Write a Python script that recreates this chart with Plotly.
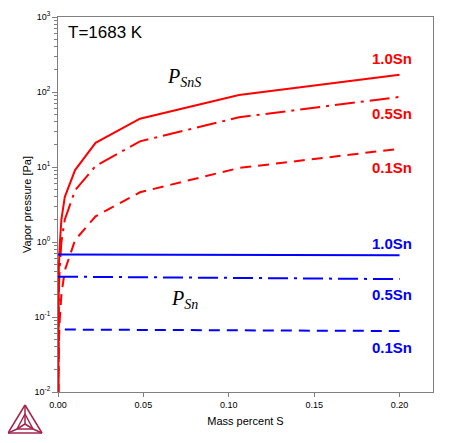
import plotly.graph_objects as go

# ---- data ----
x_sns = [0.0, 0.0001, 0.0005, 0.001, 0.002, 0.004, 0.010, 0.022, 0.048, 0.106, 0.200]
p_sns_10 = [1e-3, 0.09, 0.45, 0.9, 2.0, 4.0, 9.1, 21.0, 44.0, 91.0, 170.0]
p_sns_05 = [1e-3, 0.045, 0.22, 0.45, 1.0, 2.0, 4.9, 10.3, 22.0, 46.0, 86.0]
p_sns_01 = [1e-3, 0.009, 0.045, 0.09, 0.2, 0.42, 1.06, 2.2, 4.6, 9.7, 17.5]

x_sn = [0.0, 0.05, 0.10, 0.15, 0.20]
p_sn_10 = [0.68, 0.676, 0.672, 0.668, 0.665]
p_sn_05 = [0.345, 0.338, 0.332, 0.326, 0.320]
x_sn_01 = [0.004, 0.05, 0.10, 0.15, 0.20]
p_sn_01 = [0.068, 0.0672, 0.0665, 0.0657, 0.065]

x_ticks = [0.00, 0.05, 0.10, 0.15, 0.20]
x_ticklabels = ["0.00", "0.05", "0.10", "0.15", "0.20"]
y_ticks = [0.01, 0.1, 1, 10, 100, 1000]
y_ticklabels = ["10<sup>-2</sup>", "10<sup>-1</sup>", "10<sup>0</sup>",
                "10<sup>1</sup>", "10<sup>2</sup>", "10<sup>3</sup>"]

RED = "#ff0000"
BLUE = "#0000ff"
DASH = "11px,7px"
DASHDOT = "20px,6px,3px,6px"

fig = go.Figure()
for y, d in [(p_sns_10, "solid"), (p_sns_05, DASHDOT), (p_sns_01, DASH)]:
    fig.add_trace(go.Scatter(x=x_sns, y=y, mode="lines",
                             line=dict(color=RED, width=2, dash=d), showlegend=False))
for xx, y, d in [(x_sn, p_sn_10, "solid"), (x_sn, p_sn_05, DASHDOT), (x_sn_01, p_sn_01, DASH)]:
    fig.add_trace(go.Scatter(x=xx, y=y, mode="lines",
                             line=dict(color=BLUE, width=2, dash=d), showlegend=False))

# ---- layout (page body has an 8px margin) ----
OFF = 8
X0, X1, Y0, Y1 = 58, 433, 17, 392   # plot area in screenshot pixels
W, H = 433, 427
L, T = X0 - OFF, Y0 - OFF
R, B = W - (X1 - OFF), H - (Y1 - OFF)
pw, ph = X1 - X0, Y1 - Y0

def px(xpix):
    return (xpix - X0) / pw

def py(ypix):
    return (Y1 - ypix) / ph

axcol = "#7f7f7f"
fig.update_layout(
    width=W, height=H,
    margin=dict(l=L, r=R, t=T, b=B, pad=0, autoexpand=False),
    plot_bgcolor="white", paper_bgcolor="white",
    font=dict(family="Liberation Sans, Arial, sans-serif", color="black"),
    xaxis=dict(range=[0, 0.2196], tickvals=x_ticks, ticktext=x_ticklabels, automargin=False,
               ticks="outside", ticklen=4, tickcolor=axcol, showgrid=False, zeroline=False,
               showline=True, linecolor=axcol, linewidth=1, mirror=True,
               tickfont=dict(size=9),
               title=dict(text="Mass percent S", font=dict(size=11), standoff=8)),
    yaxis=dict(type="log", range=[-2, 3], tickvals=y_ticks, ticktext=y_ticklabels,
               automargin=False,
               ticks="outside", ticklen=5, tickcolor=axcol, showgrid=False, zeroline=False,
               showline=True, linecolor=axcol, linewidth=1, mirror=True,
               tickfont=dict(size=9),
               minor=dict(ticks="outside", ticklen=3, tickcolor=axcol, showgrid=False,
                          dtick="D1"),
               title=dict(text="Vapor pressure [Pa]", font=dict(size=11), standoff=0)),
)

ann = []
ann.append(dict(text="T=1683 K", x=px(66), y=py(33), xanchor="left", yanchor="middle",
                font=dict(size=17, color="black")))
for txt, ypix, col in [("1.0Sn", 59, RED), ("0.5Sn", 113, RED), ("0.1Sn", 168, RED),
                       ("1.0Sn", 243, BLUE), ("0.5Sn", 294, BLUE), ("0.1Sn", 347, BLUE)]:
    ann.append(dict(text=f"<b>{txt}</b>", x=px(392), y=py(ypix), xanchor="center",
                    yanchor="middle", font=dict(size=15, color=col)))
ann.append(dict(text="<i>P</i><sub><i>SnS</i></sub>", x=px(165), y=py(78), xanchor="left",
                yanchor="middle", font=dict(size=20, family="Liberation Serif, serif", color="black")))
ann.append(dict(text="<i>P</i><sub><i>Sn</i></sub>", x=px(169), y=py(299), xanchor="left",
                yanchor="middle", font=dict(size=20, family="Liberation Serif, serif", color="black")))
for a in ann:
    a.update(xref="paper", yref="paper", showarrow=False)
fig.update_layout(annotations=ann)

# ---- logo (decorative) ----
logo = "#a3234b"
shapes = []
A, BL, BR = (25, 405), (8, 433), (42, 433)
C = (25, 424)
I1, I2, I3 = (25, 414), (17, 429), (33, 429)
def line(p1, p2):
    shapes.append(dict(type="line", xref="paper", yref="paper",
                       x0=px(p1[0]), y0=py(p1[1]), x1=px(p2[0]), y1=py(p2[1]),
                       line=dict(color=logo, width=1.5)))
for p1, p2 in [(A, BL), (BL, BR), (BR, A), (I1, I2), (I2, I3), (I3, I1),
               (A, I1), (BL, I2), (BR, I3), (I1, C), (I2, C), (I3, C)]:
    line(p1, p2)
fig.update_layout(shapes=shapes)

fig.write_html("out.html")
